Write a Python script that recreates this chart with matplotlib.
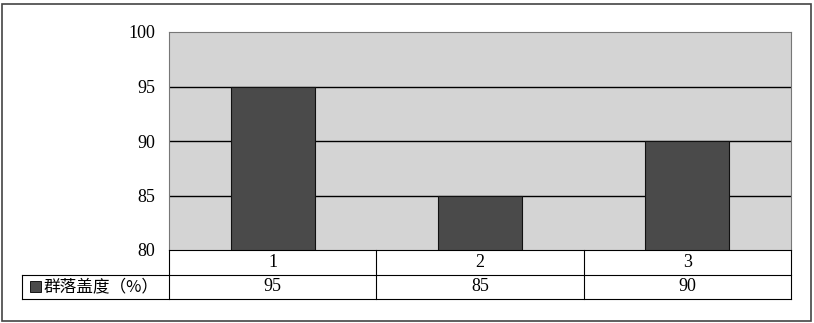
import matplotlib.pyplot as plt
from matplotlib.patches import Rectangle

plt.rcParams['font.family'] = ['Liberation Serif', 'Noto Sans CJK SC']

categories = ["1", "2", "3"]
values = [95, 85, 90]
series_name = "群落盖度（%）"
yticks = [80, 85, 90, 95, 100]

W, H = 814, 323
fig = plt.figure(figsize=(W / 100, H / 100), dpi=100)

# figure border
fig.patches.append(Rectangle((2 / W, 2 / H), 809 / W, 317 / H, transform=fig.transFigure,
                             fill=False, edgecolor="#444444", linewidth=1.2))

left, right, top, bottom = 169, 791, 32, 250
ax = fig.add_axes([left / W, (H - bottom) / H, (right - left) / W, (bottom - top) / H])
ax.set_facecolor("#d4d4d4")
x = list(range(len(categories)))
ax.bar(x, [v - 80 for v in values], bottom=80, width=0.405, color="#4a4a4a",
       edgecolor="#111111", linewidth=0.8, zorder=3)
ax.set_xlim(-0.5, len(categories) - 0.5)
ax.set_ylim(80, 100)
ax.set_yticks(yticks)
ax.set_yticklabels([str(t) for t in yticks], fontsize=13)
ax.tick_params(axis="y", length=0, pad=10)
ax.set_xticks([])
for t in yticks[1:-1]:
    ax.axhline(t, color="black", linewidth=1.0, zorder=2)
for s in ["left", "top", "right"]:
    ax.spines[s].set_color("#777777")
    ax.spines[s].set_linewidth(0.8)
ax.spines["bottom"].set_color("black")

# data table below the axes
row_h = 24.5 / (bottom - top)
trans = ax.get_xaxis_transform()
line_kw = dict(color="black", linewidth=0.8, clip_on=False, transform=trans)
table_left = -0.5 - (left - 22) / ((right - left) / len(categories))
ax.plot([table_left, 2.5], [-row_h, -row_h], **line_kw)
ax.plot([table_left, 2.5], [-2 * row_h, -2 * row_h], **line_kw)
ax.plot([table_left, table_left], [-row_h, -2 * row_h], **line_kw)
for b in [-0.5, 0.5, 1.5, 2.5]:
    ax.plot([b, b], [0, -2 * row_h], **line_kw)
for i, (c, v) in enumerate(zip(categories, values)):
    ax.text(i, -0.5 * row_h, c, transform=trans, ha="center", va="center", fontsize=13)
    ax.text(i, -1.5 * row_h, str(v), transform=trans, ha="center", va="center", fontsize=13)

# legend key and series name
key_x = table_left + 8 / ((right - left) / len(categories))
ax.add_patch(Rectangle((key_x, -1.5 * row_h - 0.025), 0.055, 0.05, transform=trans,
                       facecolor="#4a4a4a", edgecolor="black", linewidth=0.6, clip_on=False))
ax.text(key_x + 0.065, -1.5 * row_h, series_name, transform=trans, ha="left", va="center",
        fontsize=12, family=['Noto Sans CJK SC', 'DejaVu Sans'])

fig.savefig("out.png", dpi=100)
